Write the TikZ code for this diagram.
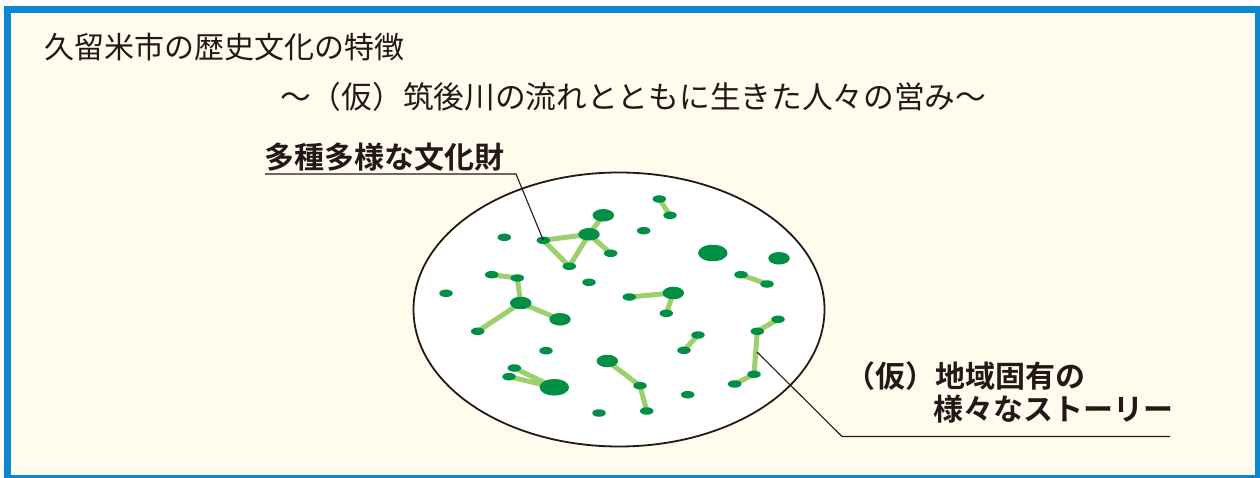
\documentclass[tikz,border=0pt]{standalone}
\usepackage{fontspec}
\newfontfamily\jp{Noto Sans CJK JP}
\newfontfamily\jpb{Noto Sans CJK JP Bold}
\usetikzlibrary{shapes.geometric}
\definecolor{frameblue}{HTML}{0A88D2}
\definecolor{cream}{HTML}{FFFCEE}
\definecolor{dotgreen}{HTML}{008F45}
\definecolor{linkgreen}{HTML}{9DD06C}
\definecolor{ink}{HTML}{231815}
\tikzset{
  sdot/.style={ellipse, fill=dotgreen, inner sep=0pt, minimum width=13.5pt, minimum height=7.5pt},
  ldot/.style={ellipse, fill=dotgreen, inner sep=0pt, minimum width=21.5pt, minimum height=12.5pt},
  xdot/.style={ellipse, fill=dotgreen, inner sep=0pt, minimum width=29.5pt, minimum height=16.5pt},
  link/.style={linkgreen, line width=5pt},
  leader/.style={ink, line width=1.1pt},
  titletext/.style={anchor=west, inner sep=0pt, text=ink, font=\jp\fontsize{30}{36}\selectfont},
  labeltext/.style={anchor=west, inner sep=0pt, text=ink, font=\jpb\fontsize{30}{36}\selectfont},
}
\begin{document}
\begin{tikzpicture}[x=1pt, y=-1pt]
\useasboundingbox (0,0) rectangle (1260,478);
\clip (0,0) rectangle (1260,478);
\fill[white] (0,0) rectangle (1260,478);
\draw[frameblue, line width=7pt, fill=cream] (7.5,9.5) rectangle (1258.5,478.5);

\node[titletext] (title) at (44,47) {久留米市の歴史文化の特徴};
\node[titletext, font=\jp\fontsize{30.7}{36}\selectfont] (subtitle) at (280,97) {～（仮）筑後川の流れとともに生きた人々の営み～};

\node[draw=ink, line width=1.8pt, fill=white, ellipse, inner sep=0pt, minimum width=411pt, minimum height=274pt] (field) at (619,309.5) {};

% dot positions
\coordinate (p1) at (659.3,199);
\coordinate (p2) at (670,215.3);
\coordinate (p3) at (603.3,215.3);
\coordinate (p4) at (589,234.3);
\coordinate (p5) at (543.3,240.3);
\coordinate (p6) at (504.3,237.3);
\coordinate (p7) at (643.7,230.7);
\coordinate (p8) at (610.7,253.3);
\coordinate (p9) at (569.3,266.3);
\coordinate (p10) at (712.8,253);
\coordinate (p11) at (779,258.3);
\coordinate (p12) at (741,274.7);
\coordinate (p13) at (767,284);
\coordinate (p14) at (491.7,274.7);
\coordinate (p15) at (517.3,278);
\coordinate (p16) at (589,282.3);
\coordinate (p17) at (446,293.3);
\coordinate (p18) at (520.7,303);
\coordinate (p19) at (560,319.3);
\coordinate (p20) at (477.7,331.3);
\coordinate (p21) at (629.3,297);
\coordinate (p22) at (673.3,293);
\coordinate (p23) at (666.3,313.3);
\coordinate (p24) at (778,319.3);
\coordinate (p25) at (757.3,331.3);
\coordinate (p26) at (698,335);
\coordinate (p27) at (684,350.3);
\coordinate (p28) at (546,350.7);
\coordinate (p29) at (607.3,361);
\coordinate (p30) at (514.3,368);
\coordinate (p31) at (509,376.7);
\coordinate (p32) at (554.3,387.3);
\coordinate (p33) at (640,385.7);
\coordinate (p34) at (754,374.3);
\coordinate (p35) at (734.7,384);
\coordinate (p36) at (687.7,394.7);
\coordinate (p37) at (646.7,411);
\coordinate (p38) at (599,413);

% links
\draw[link] (p5) -- (p4) -- (p9) -- cycle;
\draw[link] (p4) -- (p3);
\draw[link] (p4) -- (p8);
\draw[link] (p1) -- (p2);
\draw[link] (p12) -- (p13);
\draw[link] (p14) -- (p15) -- (p18) -- (p19);
\draw[link] (p18) -- (p20);
\draw[link] (p21) -- (p22) -- (p23);
\draw[link] (p24) -- (p25) -- (p34) -- (p35);
\draw[link] (p26) -- (p27);
\draw[link] (p30) -- (p32);
\draw[link] (p31) -- (p32);
\draw[link] (p29) -- (p33) -- (p37);

% dots
\foreach \i in {1,2,5,6,7,8,9,12,13,14,15,16,17,20,21,23,24,25,26,27,28,30,31,33,34,35,36,37,38}
  \node[sdot] (d\i) at (p\i) {};
\foreach \i in {3,4,11,18,19,22,29}
  \node[ldot] (d\i) at (p\i) {};
\foreach \i in {10,32}
  \node[xdot] (d\i) at (p\i) {};

% labels
\node[labeltext] (lab1) at (264,157) {多種多様な文化財};
\coordinate (u1a) at (265,174);
\coordinate (u1b) at (516,174);
\draw[leader] (u1a) -- (u1b) -- (d5.center);

\node[labeltext] (lab2a) at (845,376) {（仮）地域固有の};
\node[labeltext] (lab2b) at (933,409) {様々なストーリー};
\coordinate (s1) at (757,352);
\coordinate (u2a) at (842,436.5);
\coordinate (u2b) at (1170,436.5);
\draw[leader] (s1) -- (u2a) -- (u2b);
\end{tikzpicture}
\end{document}
